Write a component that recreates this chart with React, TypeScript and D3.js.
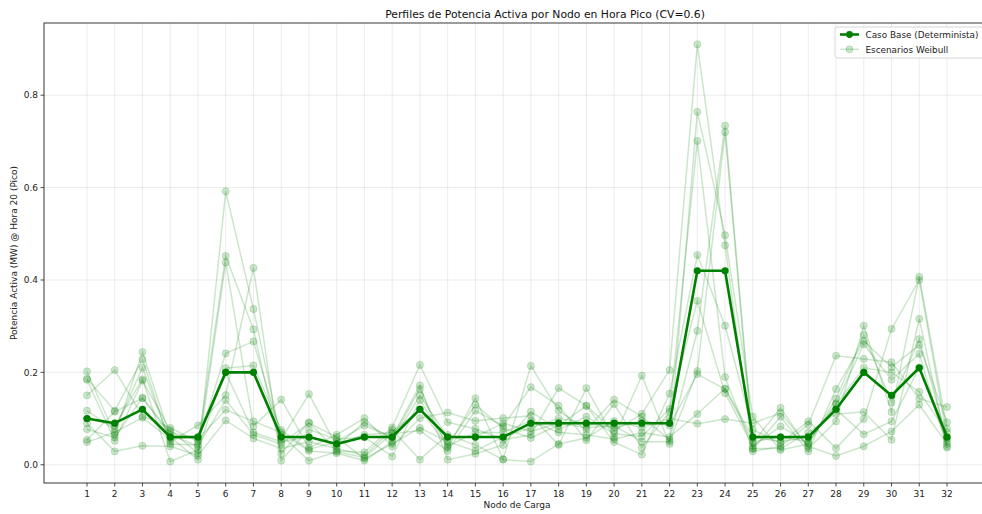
import React from "react";
import * as d3 from "d3";

const nodes = Array.from({ length: 32 }, (_, i) => i + 1);
const yTicks = [0.0, 0.2, 0.4, 0.6, 0.8];

const baseCase = [0.10, 0.09, 0.12, 0.06, 0.06, 0.20, 0.20, 0.06, 0.06, 0.045, 0.06, 0.06, 0.12, 0.06, 0.06, 0.06, 0.09, 0.09, 0.09, 0.09, 0.09, 0.09, 0.42, 0.42, 0.06, 0.06, 0.06, 0.12, 0.20, 0.15, 0.21, 0.06];

const s1 = [.202, .065, .244, .060, .011, .592, .337, .055, .153, .040, .092, .056, .164, .036, .144, .012, .214, .117, .076, .141, .104, .054, .290, .734, .047, .123, .035, .094, .301, .114, .407, .078];
const s2 = [.186, .117, .228, .045, .043, .452, .293, .024, .092, .030, .027, .081, .216, .092, .078, .054, .065, .166, .128, .073, .110, .205, .910, .475, .029, .040, .087, .236, .229, .222, .143, .125];
const s3 = [.184, .052, .182, .075, .025, .438, .083, .141, .037, .065, .101, .040, .101, .113, .095, .101, .106, .043, .166, .059, .193, .045, .764, .497, .104, .032, .045, .143, .281, .135, .272, .056];
const s4 = [.150, .205, .105, .080, .050, .241, .267, .065, .009, .028, .016, .067, .074, .030, .117, .084, .168, .128, .053, .131, .037, .115, .701, .190, .034, .104, .029, .164, .268, .211, .259, .092];
const s5 = [.117, .076, .210, .050, .085, .151, .426, .009, .076, .055, .060, .018, .140, .043, .130, .079, .058, .086, .127, .049, .022, .154, .454, .301, .076, .047, .094, .036, .099, .294, .400, .060];
const s6 = [.100, .085, .185, .007, .032, .209, .215, .075, .033, .050, .085, .060, .172, .011, .024, .043, .115, .076, .104, .067, .061, .121, .355, .155, .040, .083, .047, .133, .261, .184, .240, .037];
const s7 = [.090, .029, .041, .040, .020, .096, .057, .035, .050, .035, .020, .076, .011, .065, .043, .011, .007, .045, .058, .095, .080, .100, .089, .099, .090, .112, .040, .019, .040, .072, .130, .045];
const s8 = [.077, .059, .145, .070, .055, .119, .094, .070, .030, .025, .009, .050, .150, .060, .060, .090, .072, .090, .080, .085, .050, .050, .203, .720, .035, .035, .070, .110, .114, .054, .316, .040];
const s9 = [.054, .115, .144, .065, .040, .140, .065, .045, .090, .060, .013, .045, .080, .050, .030, .060, .080, .100, .090, .080, .095, .085, .196, .164, .050, .060, .050, .130, .210, .200, .158, .070];
const s10 = [.049, .070, .102, .055, .060, .200, .070, .050, .060, .045, .065, .070, .120, .040, .070, .070, .095, .070, .065, .055, .070, .060, .110, .165, .060, .050, .060, .120, .066, .094, .210, .050];
const scenarios = [s1, s2, s3, s4, s5, s6, s7, s8, s9, s10];

const W = 982, H = 514;
const M = { left: 44, right: 990, top: 23, bottom: 483 };
const FONT = "DejaVu Sans, sans-serif";

export default function App() {
  const x = d3.scaleLinear().domain([-0.55, 33.55]).range([M.left, M.right]);
  const y = d3.scaleLinear().domain([-0.0395, 0.9563]).range([M.bottom, M.top]);
  const line = d3.line<number>().x((_, i) => x(nodes[i])).y((v) => y(v));
  const green = "#008000";
  return (
    <svg width={W} height={H} style={{ position: "absolute", left: 0, top: 0, background: "#fff" }} fontFamily={FONT}>
      <defs>
        <clipPath id="plot">
          <rect x={M.left} y={M.top} width={M.right - M.left} height={M.bottom - M.top} />
        </clipPath>
      </defs>
      <rect x={0} y={0} width={W} height={H} fill="#fff" />
      {/* grid */}
      <g stroke="#b0b0b0" strokeOpacity={0.3} strokeWidth={0.8}>
        {nodes.map((n) => (
          <line key={"gx" + n} x1={x(n)} x2={x(n)} y1={M.top} y2={M.bottom} />
        ))}
        {yTicks.map((t) => (
          <line key={"gy" + t} x1={M.left} x2={M.right} y1={y(t)} y2={y(t)} />
        ))}
      </g>
      <g clipPath="url(#plot)">
        {scenarios.map((s, k) => (
          <g key={"s" + k}>
            <path d={line(s) || ""} fill="none" stroke={green} strokeOpacity={0.2} strokeWidth={1.5} />
            {s.map((v, i) => (
              <circle key={i} cx={x(nodes[i])} cy={y(v)} r={3.6} fill={green} fillOpacity={0.2} stroke={green} strokeOpacity={0.2} strokeWidth={0.8} />
            ))}
          </g>
        ))}
        <path d={line(baseCase) || ""} fill="none" stroke={green} strokeWidth={2.6} strokeLinejoin="round" />
        {baseCase.map((v, i) => (
          <circle key={"b" + i} cx={x(nodes[i])} cy={y(v)} r={3.6} fill={green} />
        ))}
      </g>
      {/* spines */}
      <rect x={M.left} y={M.top} width={M.right - M.left} height={M.bottom - M.top} fill="none" stroke="#222" strokeWidth={0.9} />
      {/* x ticks */}
      {nodes.map((n) => (
        <g key={"tx" + n}>
          <line x1={x(n)} x2={x(n)} y1={M.bottom} y2={M.bottom + 3.5} stroke="#222" strokeWidth={0.8} />
          <text x={x(n)} y={M.bottom + 14} fontSize={9} textAnchor="middle" fill="#222">{n}</text>
        </g>
      ))}
      {yTicks.map((t) => (
        <g key={"ty" + t}>
          <line x1={M.left - 3.5} x2={M.left} y1={y(t)} y2={y(t)} stroke="#222" strokeWidth={0.8} />
          <text x={M.left - 6} y={y(t) + 3.2} fontSize={9} textAnchor="end" fill="#222">{t.toFixed(1)}</text>
        </g>
      ))}
      <text x={(M.left + M.right) / 2} y={508} fontSize={9} textAnchor="middle" fill="#222">Nodo de Carga</text>
      <text transform={`translate(17,${(M.top + M.bottom) / 2}) rotate(-90)`} fontSize={9} textAnchor="middle" fill="#222">Potencia Activa (MW) @ Hora 20 (Pico)</text>
      <text x={545} y={18} fontSize={10.8} textAnchor="middle" fill="#111">Perfiles de Potencia Activa por Nodo en Hora Pico (CV=0.6)</text>
      {/* legend */}
      <g>
        <rect x={835} y={27} width={160} height={31} rx={2.5} fill="#fff" fillOpacity={0.8} stroke="#ccc" strokeWidth={0.8} />
        <line x1={840} x2={859} y1={34.5} y2={34.5} stroke={green} strokeWidth={2.6} />
        <circle cx={849.5} cy={34.5} r={3.4} fill={green} />
        <text x={865.5} y={37.7} fontSize={8.85} fill="#222">Caso Base (Determinista)</text>
        <line x1={840} x2={859} y1={49.3} y2={49.3} stroke={green} strokeOpacity={0.2} strokeWidth={1.5} />
        <circle cx={849.5} cy={49.3} r={3.4} fill={green} fillOpacity={0.2} stroke={green} strokeOpacity={0.2} />
        <text x={865.5} y={52.5} fontSize={8.85} fill="#222">Escenarios Weibull</text>
      </g>
    </svg>
  );
}
